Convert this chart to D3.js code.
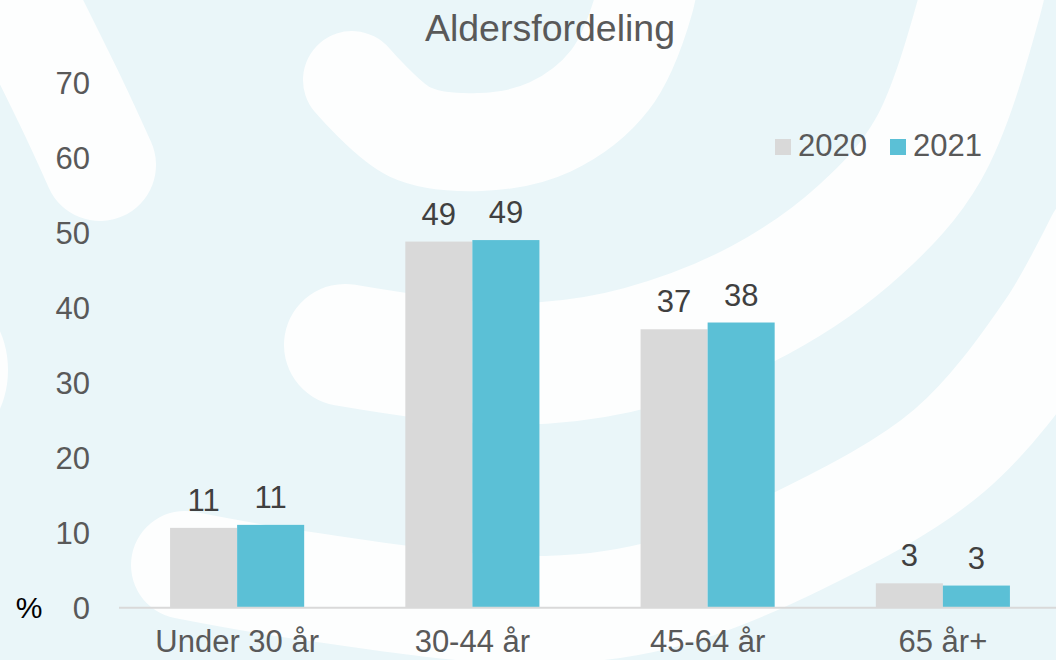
<!DOCTYPE html>
<html>
<head>
<meta charset="utf-8">
<script src="https://cdn.jsdelivr.net/npm/d3@7"></script>
<style>
  html, body { margin: 0; padding: 0; background: #ffffff; }
  svg { display: block; }
  text { font-family: "Liberation Sans", Arial, sans-serif; }
</style>
</head>
<body>
<svg id="chart" width="1056" height="660"></svg>
<script>
// ---- data ----
const categories = ["Under 30 år", "30-44 år", "45-64 år", "65 år+"];
const seriesNames = ["2020", "2021"];
const values2020 = [10.6, 48.8, 37.1, 3.2];
const values2021 = [11.0, 49.0, 38.0, 2.9];
const yTicks = [0, 10, 20, 30, 40, 50, 60, 70];
const title = "Aldersfordeling";
const unitLabel = "%";

const W = 1056, H = 660;
const colors = { "2020": "#D9D9D9", "2021": "#5BC0D6" };
const textColor = "#595959";
const fs = 31;

const svg = d3.select("#chart");

// ---- decorative background swirl ----
const bg = svg.append("g");
bg.append("rect").attr("width", W).attr("height", H).attr("fill", "#EAF6F9");
const lineGen = d3.line().curve(d3.curveCatmullRom.alpha(0.5));
const bands = [
  { pts: [[-30, -100], [70, 100], [100, 165]], w: 112 },
  { pts: [[352, 80], [410, 132], [480, 142], [550, 127], [610, 80], [645, 0], [655, -70]], w: 98 },
  { pts: [[345, 345], [450, 360], [543, 363], [640, 347], [760, 300], [860, 230], [928, 150], [981, 0], [995, -70]], w: 122 },
  { pts: [[185, 565], [300, 585], [528, 610], [660, 595], [800, 540], [950, 450], [1050, 330], [1100, 240]], w: 108 }
];
bg.selectAll("path.band").data(bands).join("path")
  .attr("class", "band")
  .attr("d", d => lineGen(d.pts))
  .attr("fill", "none")
  .attr("stroke", "#FDFEFE")
  .attr("stroke-width", d => d.w)
  .attr("stroke-linecap", "round");
bg.append("ellipse").attr("cx", -40).attr("cy", 370).attr("rx", 48).attr("ry", 70).attr("fill", "#FDFEFE");

// ---- scales ----
const x0 = d3.scaleBand().domain(categories).range([119.5, 1060.5]).paddingInner(0.43).paddingOuter(0.215);
const x1 = d3.scaleBand().domain(seriesNames).range([0, x0.bandwidth()]);
const y = d3.scaleLinear().domain([0, 70]).range([607.3, 82.7]);

const rows = categories.map((c, i) => ({ cat: c, vals: [
  { s: "2020", v: values2020[i] },
  { s: "2021", v: values2021[i] }
]}));

// ---- title ----
svg.append("text")
  .attr("x", 550).attr("y", 41)
  .attr("text-anchor", "middle")
  .attr("font-size", 37.5)
  .attr("fill", textColor)
  .text(title);

// ---- y axis labels (no line) ----
const yAxis = d3.axisLeft(y).tickValues(yTicks).tickSize(0).tickPadding(0);
const gy = svg.append("g").attr("transform", "translate(90,0)").call(yAxis);
gy.select(".domain").remove();
gy.selectAll("text")
  .attr("font-size", fs)
  .attr("font-family", "Liberation Sans, Arial, sans-serif")
  .attr("fill", textColor)
  .attr("dy", "0.35em");

// unit label
svg.append("text")
  .attr("x", 29).attr("y", y(0))
  .attr("dy", "0.35em")
  .attr("text-anchor", "middle")
  .attr("font-size", 30)
  .attr("fill", "#000000")
  .text(unitLabel);

// ---- bars ----
const groups = svg.append("g").selectAll("g").data(rows).join("g")
  .attr("transform", d => `translate(${x0(d.cat)},0)`);
groups.selectAll("rect").data(d => d.vals).join("rect")
  .attr("x", d => x1(d.s))
  .attr("y", d => y(d.v))
  .attr("width", x1.bandwidth())
  .attr("height", d => y(0) - y(d.v))
  .attr("fill", d => colors[d.s]);
groups.selectAll("text.val").data(d => d.vals).join("text")
  .attr("class", "val")
  .attr("x", d => x1(d.s) + x1.bandwidth() / 2)
  .attr("y", d => y(d.v) - 17)
  .attr("text-anchor", "middle")
  .attr("font-size", fs)
  .attr("fill", "#404040")
  .text(d => d3.format(".0f")(d.v));

// ---- x axis ----
const xAxis = d3.axisBottom(x0).tickSize(0).tickPadding(0);
const gx = svg.append("g").attr("transform", `translate(0,${y(0)})`).call(xAxis);
gx.select(".domain").attr("stroke", "#D9D9D9").attr("stroke-width", 2)
  .attr("d", "M119,0.5H1056");
gx.selectAll("text")
  .attr("font-size", fs)
  .attr("font-family", "Liberation Sans, Arial, sans-serif")
  .attr("fill", textColor)
  .attr("dy", 0)
  .attr("y", 45);

// ---- legend ----
const legendItems = [
  { s: "2020", x: 775 },
  { s: "2021", x: 890 }
];
const lg = svg.append("g").selectAll("g").data(legendItems).join("g")
  .attr("transform", d => `translate(${d.x},139)`);
lg.append("rect").attr("width", 16).attr("height", 16).attr("fill", d => colors[d.s]);
lg.append("text").attr("x", 23).attr("y", 16.5)
  .attr("font-size", fs).attr("fill", textColor)
  .text(d => d.s);
</script>
</body>
</html>
